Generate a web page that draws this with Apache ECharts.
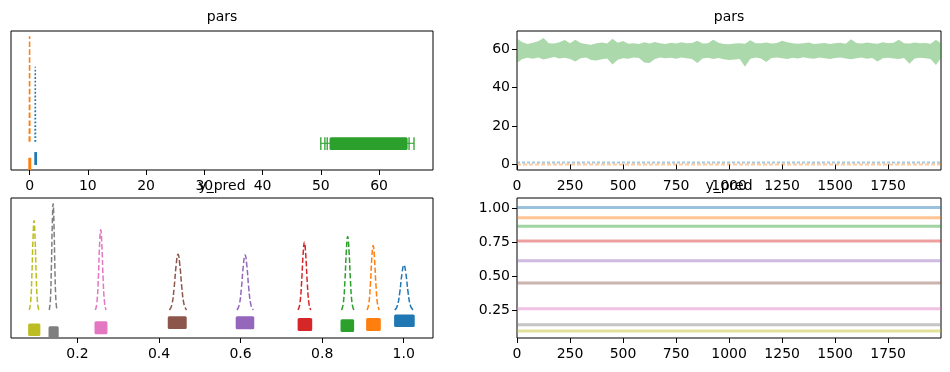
<!DOCTYPE html>
<html><head><meta charset="utf-8">
<script src="https://cdn.jsdelivr.net/npm/echarts@6/dist/echarts.min.js"></script>
<style>html,body{margin:0;padding:0;background:#fff}#c{width:950px;height:372px}</style>
</head><body><div id="c"></div>
<script>
// ---------- data ----------
const panelTitles = ['pars', 'pars', 'y_pred', 'y_pred'];

// pars: KDE (top-left)
const parsKdeX = [
  [0.93, 0.96, 0.98, 1.00, 1.03],
  [-0.05, -0.02, 0.0, 0.02, 0.05],
  [50.0, 54.0, 58.0, 62.0, 66.0]
];
const parsKdeY = [
  [0.203, 0.45, 0.742, 0.45, 0.203],
  [0.203, 0.55, 0.962, 0.55, 0.203],
  [0.192, 0.193, 0.194, 0.193, 0.192]
];
// pars rug marks: [xMin, xMax, yMin, yMax]
const parsRug = [
  [[0.81, 1.27, 0.036, 0.129]],
  [[-0.22, 0.29, 0.0, 0.088]],
  [[51.5, 64.9, 0.144, 0.235], [50.0, 50.0, 0.144, 0.235], [50.7, 50.7, 0.144, 0.235],
   [51.1, 51.1, 0.144, 0.235], [65.15, 65.15, 0.144, 0.235], [66.0, 66.0, 0.144, 0.235]]
];
const parsTicksX = [0, 10, 20, 30, 40, 50, 60];

// pars: trace (top-right)
const traceDraws = [0,25,50,75,100,125,150,175,200,225,250,275,300,325,350,375,400,425,450,475,
  500,525,550,575,600,625,650,675,700,725,750,775,800,825,850,875,900,925,950,975,
  1000,1025,1050,1075,1100,1125,1150,1175,1200,1225,1250,1275,1300,1325,1350,1375,1400,1425,1450,1475,
  1500,1525,1550,1575,1600,1625,1650,1675,1700,1725,1750,1775,1800,1825,1850,1875,1900,1925,1950,1975,1999];
const pars2TraceUpper = [65.4,63.5,62.6,63.2,64.0,65.7,63.0,62.8,63.4,64.6,62.9,64.8,63.1,62.5,62.2,63.0,63.3,62.8,65.3,63.2,
  64.1,62.7,63.0,62.6,63.4,62.8,63.6,62.9,62.5,63.2,62.8,63.5,62.9,63.1,64.3,62.8,63.0,64.8,63.2,62.6,
  62.4,62.8,63.0,62.7,64.5,63.0,62.9,63.3,62.8,63.1,64.3,63.4,63.0,62.7,62.9,63.3,62.6,62.8,63.1,62.5,
  62.9,63.2,62.7,65.0,63.1,62.8,63.3,63.0,62.7,63.4,62.9,63.2,64.8,63.0,62.8,63.3,62.9,63.1,62.7,64.8,63.0];
const pars2TraceLower = [52.7,54.8,55.4,54.9,55.6,54.5,55.2,55.8,55.0,55.4,54.8,53.5,55.1,55.5,54.2,54.0,54.6,55.0,51.9,54.4,
  55.2,54.9,55.6,55.3,53.0,52.7,54.8,55.5,55.1,55.4,54.9,55.6,55.2,54.7,52.7,55.0,55.4,54.8,55.3,54.6,
  54.2,54.5,54.8,50.7,54.9,55.5,55.0,53.2,55.3,55.6,55.1,54.8,55.4,55.0,55.7,55.2,54.9,55.5,55.1,54.7,
  55.3,55.6,55.0,54.6,55.2,55.5,54.9,55.3,53.5,55.1,55.4,55.0,54.7,55.3,52.3,55.0,55.4,55.2,54.8,51.6,55.3];
const parsTraceLevel = [1.0, 0.0];   // pars[0], pars[1]
const traceTicksX = [0, 250, 500, 750, 1000, 1250, 1500, 1750];
const parsTicksY = [0, 20, 40, 60];

// y_pred: KDE (bottom-left), index 0..8
const ypredKdeX = [
  [0.978, 0.9843, 0.9904, 0.9956, 1.0005, 1.0055, 1.0106, 1.0167, 1.023],
  [0.910, 0.9142, 0.9183, 0.9217, 0.925, 0.9283, 0.9318, 0.9358, 0.940],
  [0.8476, 0.8518, 0.8559, 0.8593, 0.8626, 0.8659, 0.8694, 0.8734, 0.8776],
  [0.741, 0.7453, 0.7495, 0.7531, 0.7565, 0.7599, 0.7635, 0.7677, 0.772],
  [0.591, 0.5966, 0.602, 0.6066, 0.611, 0.6154, 0.620, 0.6254, 0.631],
  [0.4255, 0.4314, 0.437, 0.4419, 0.4465, 0.4511, 0.456, 0.4616, 0.4675],
  [0.244, 0.2476, 0.2512, 0.2541, 0.257, 0.2599, 0.2628, 0.2664, 0.270],
  [0.1308, 0.1335, 0.1360, 0.1382, 0.1403, 0.1424, 0.1446, 0.1471, 0.1498],
  [0.0820, 0.0852, 0.0883, 0.0910, 0.0935, 0.0960, 0.0987, 0.1018, 0.1050]
];
const ypredKdeY = [
  [0.20, 0.229, 0.328, 0.457, 0.521, 0.457, 0.328, 0.229, 0.20],
  [0.20, 0.241, 0.384, 0.568, 0.660, 0.568, 0.384, 0.241, 0.20],
  [0.20, 0.247, 0.410, 0.620, 0.725, 0.620, 0.410, 0.247, 0.20],
  [0.20, 0.244, 0.394, 0.587, 0.684, 0.587, 0.394, 0.244, 0.20],
  [0.20, 0.235, 0.357, 0.514, 0.593, 0.514, 0.357, 0.235, 0.20],
  [0.20, 0.236, 0.359, 0.518, 0.598, 0.518, 0.359, 0.236, 0.20],
  [0.20, 0.252, 0.429, 0.658, 0.773, 0.658, 0.429, 0.252, 0.20],
  [0.20, 0.268, 0.504, 0.807, 0.959, 0.807, 0.504, 0.268, 0.20],
  [0.20, 0.258, 0.456, 0.711, 0.839, 0.711, 0.456, 0.258, 0.20]
];
// y_pred rug marks: [xMin, xMax, yMin, yMax]
const ypredRug = [
  [0.9764, 1.027, 0.079, 0.168],
  [0.9078, 0.9438, 0.050, 0.143],
  [0.845, 0.8784, 0.043, 0.134],
  [0.7398, 0.7756, 0.050, 0.143],
  [0.588, 0.6335, 0.062, 0.156],
  [0.4214, 0.4679, 0.065, 0.156],
  [0.2417, 0.2735, 0.027, 0.120],
  [0.129, 0.154, 0.000, 0.084],
  [0.079, 0.109, 0.014, 0.103]
];
const ypredTicksX = [0.2, 0.4, 0.6, 0.8, 1.0];

// y_pred: trace (bottom-right)
const ypredTraceMean = [1.004, 0.928, 0.866, 0.758, 0.613, 0.450, 0.261, 0.143, 0.097];
const ypredTicksY = [0.25, 0.50, 0.75, 1.00];

// ---------- styling / build ----------
const palette = ['#1f77b4','#ff7f0e','#2ca02c','#d62728','#9467bd','#8c564b','#e377c2','#7f7f7f','#bcbd22'];
const FONT = 'DejaVu Sans';
const grids = [
  {left: 11, top: 31, width: 422, height: 139},
  {left: 517, top: 31, width: 424, height: 139},
  {left: 11, top: 198, width: 422, height: 140},
  {left: 517, top: 198, width: 424, height: 140}
].map(g => Object.assign({show: true, borderColor: '#000', borderWidth: 1, backgroundColor: 'transparent', containLabel: false}, g));

function xAx(gi, min, max, ticks, fmt) {
  return {
    type: 'value', gridIndex: gi, min, max, splitLine: {show: false},
    axisLine: {show: false},
    axisTick: {show: true, length: 5, lineStyle: {color: '#000', width: 1}, customValues: ticks},
    axisLabel: {show: true, customValues: ticks, margin: 9, color: '#000', fontSize: 14, fontFamily: FONT,
                formatter: fmt || (v => String(v))}
  };
}
function yAx(gi, min, max, ticks, fmt) {
  const o = {
    type: 'value', gridIndex: gi, min, max, splitLine: {show: false},
    axisLine: {show: false}
  };
  if (ticks) {
    o.axisTick = {show: true, length: 5, lineStyle: {color: '#000', width: 1}, customValues: ticks};
    o.axisLabel = {show: true, customValues: ticks, margin: 7, color: '#000', fontSize: 14, fontFamily: FONT, formatter: fmt};
  } else {
    o.axisTick = {show: false};
    o.axisLabel = {show: false};
  }
  return o;
}

const xAxis = [
  xAx(0, -3.19, 69.26, parsTicksX),
  xAx(1, 0, 1999, traceTicksX),
  xAx(2, 0.037, 1.0718, ypredTicksX, v => v.toFixed(1)),
  xAx(3, 0, 1999, traceTicksX)
];
const yAxis = [
  yAx(0, 0, 1),
  yAx(1, -2.9, 69.3, parsTicksY, v => String(Math.round(v))),
  yAx(2, 0, 1),
  yAx(3, 0.0458, 1.0737, ypredTicksY, v => v.toFixed(2))
];

function rugRender(color) {
  return function (params, api) {
    const p0 = api.coord([api.value(0), api.value(2)]);
    const p1 = api.coord([api.value(1), api.value(3)]);
    let x = Math.min(p0[0], p1[0]);
    let w = Math.abs(p1[0] - p0[0]);
    if (w < 1.3) { x -= (1.3 - w) / 2; w = 1.3; }
    const y = Math.min(p0[1], p1[1]);
    const h = Math.abs(p1[1] - p0[1]);
    return {type: 'rect', shape: {x, y, width: w, height: h, r: w > 4 ? 1.5 : 0}, style: {fill: color}};
  };
}

const series = [];
const parsDash = [[1.5, 2.2], [5.5, 2.4], 'solid'];
// top-left KDE + rug
for (let k = 0; k < 3; k++) {
  series.push({
    type: 'line', xAxisIndex: 0, yAxisIndex: 0, showSymbol: false, smooth: false, silent: true,
    data: parsKdeX[k].map((x, i) => [x, parsKdeY[k][i]]),
    lineStyle: {color: palette[k], width: k === 2 ? 1 : 1.5, type: parsDash[k]}
  });
  series.push({
    type: 'custom', xAxisIndex: 0, yAxisIndex: 0, silent: true, clip: true,
    data: parsRug[k], encode: {x: [0, 1], y: [2, 3]},
    renderItem: rugRender(palette[k])
  });
}
// top-right trace: envelope band
series.push({
  type: 'custom', xAxisIndex: 1, yAxisIndex: 1, silent: true, clip: true,
  data: [[0, 0]],
  renderItem: function (params, api) {
    const pts = [];
    for (let i = 0; i < traceDraws.length; i++) pts.push(api.coord([traceDraws[i], pars2TraceUpper[i]]));
    for (let i = traceDraws.length - 1; i >= 0; i--) pts.push(api.coord([traceDraws[i], pars2TraceLower[i]]));
    return {type: 'polygon', shape: {points: pts}, style: {fill: 'rgba(44,160,44,0.4)'}};
  }
});
const levelDash = [[3, 2], [4, 2]];
for (let k = 0; k < 2; k++) {
  series.push({
    type: 'line', xAxisIndex: 1, yAxisIndex: 1, showSymbol: false, silent: true,
    data: [[traceDraws[0], parsTraceLevel[k]], [traceDraws[traceDraws.length - 1], parsTraceLevel[k]]],
    lineStyle: {color: palette[k], width: 2, opacity: 0.4, type: levelDash[k]}
  });
}
// bottom-left KDE + rug
for (let k = 0; k < 9; k++) {
  series.push({
    type: 'line', xAxisIndex: 2, yAxisIndex: 2, showSymbol: false, smooth: 0.5, silent: true,
    data: ypredKdeX[k].map((x, i) => [x, ypredKdeY[k][i]]),
    lineStyle: {color: palette[k], width: 1.5, type: [5.5, 2.4]}
  });
  series.push({
    type: 'custom', xAxisIndex: 2, yAxisIndex: 2, silent: true, clip: true,
    data: [ypredRug[k]], encode: {x: [0, 1], y: [2, 3]},
    renderItem: rugRender(palette[k])
  });
}
// bottom-right traces
for (let k = 0; k < 9; k++) {
  series.push({
    type: 'line', xAxisIndex: 3, yAxisIndex: 3, showSymbol: false, silent: true,
    data: [[traceDraws[0], ypredTraceMean[k]], [traceDraws[traceDraws.length - 1], ypredTraceMean[k]]],
    lineStyle: {color: palette[k], width: 3, opacity: 0.45}
  });
}

const titleCenters = [[222, 10], [729, 10], [222, 179], [729, 179]];
const title = panelTitles.map((t, i) => ({
  text: t, left: titleCenters[i][0], top: titleCenters[i][1], textAlign: 'center', padding: 0,
  textStyle: {fontFamily: FONT, fontSize: 14, fontWeight: 'normal', color: '#000'}
}));

const chart = echarts.init(document.getElementById('c'), null, {renderer: 'canvas'});
chart.setOption({animation: false, backgroundColor: '#fff', title, grid: grids, xAxis, yAxis, series});
</script>
</body></html>
